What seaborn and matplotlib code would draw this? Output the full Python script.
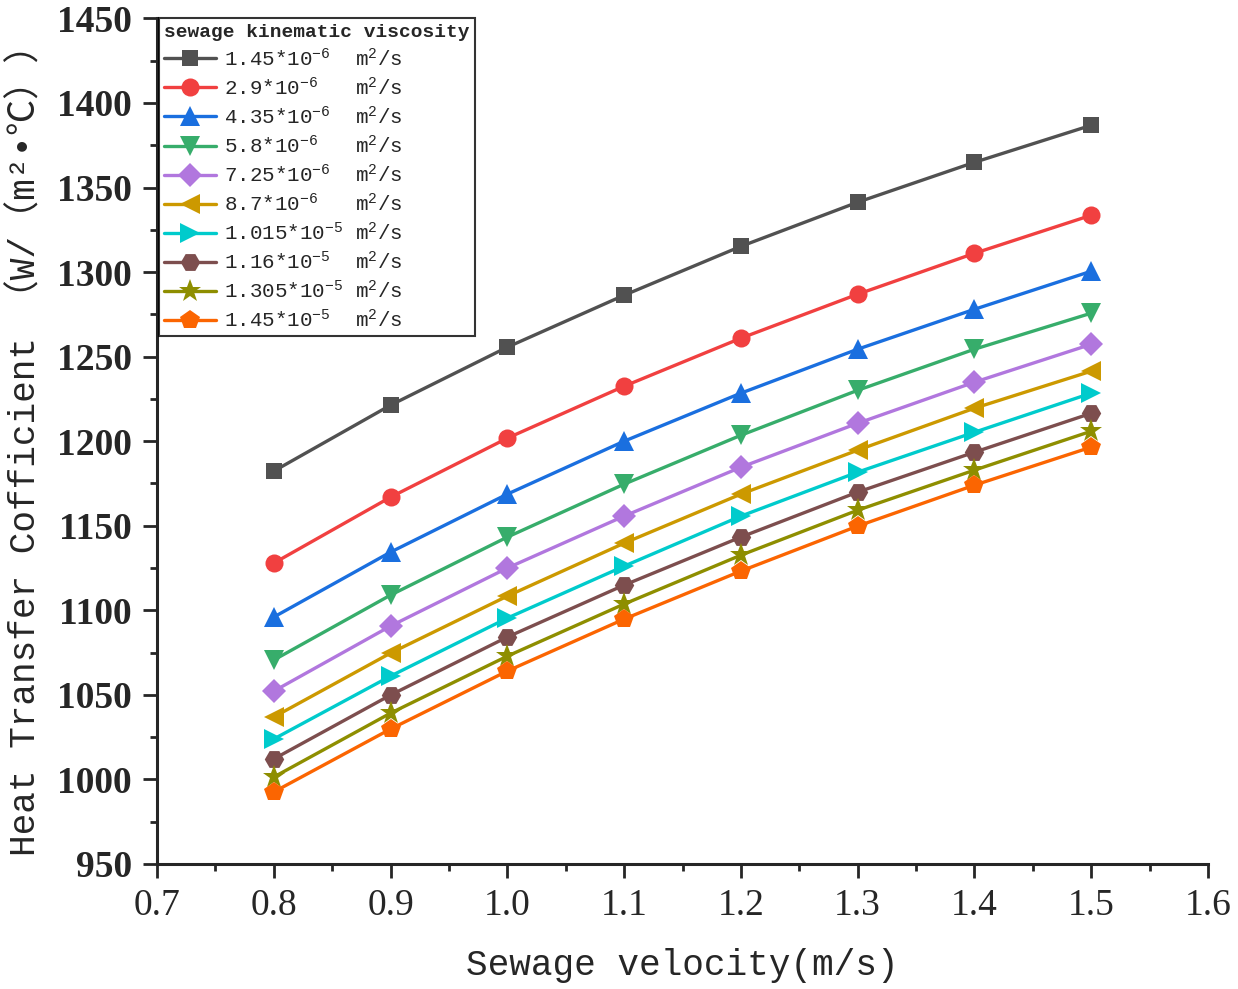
import numpy as np
import pandas as pd
import seaborn as sns
import matplotlib.pyplot as plt
from matplotlib.ticker import MultipleLocator

# data
velocity = [0.8, 0.9, 1.0, 1.1, 1.2, 1.3, 1.4, 1.5]

series_labels = [
    r"1.45*10$^{-6}$  m$^2$/s",
    r"2.9*10$^{-6}$   m$^2$/s",
    r"4.35*10$^{-6}$  m$^2$/s",
    r"5.8*10$^{-6}$   m$^2$/s",
    r"7.25*10$^{-6}$  m$^2$/s",
    r"8.7*10$^{-6}$   m$^2$/s",
    r"1.015*10$^{-5}$ m$^2$/s",
    r"1.16*10$^{-5}$  m$^2$/s",
    r"1.305*10$^{-5}$ m$^2$/s",
    r"1.45*10$^{-5}$  m$^2$/s",
]

h_145e6 = [1182.3, 1221.3, 1255.6, 1286.3, 1315.2, 1341.3, 1364.9, 1386.8]
h_29e6 = [1127.9, 1166.9, 1201.8, 1232.5, 1260.9, 1286.9, 1311.1, 1333.6]
h_435e6 = [1096.0, 1134.4, 1168.7, 1200.0, 1228.4, 1254.4, 1278.0, 1300.5]
h_58e6 = [1070.6, 1109.0, 1143.3, 1174.6, 1203.5, 1230.1, 1254.4, 1275.7]
h_725e6 = [1052.2, 1090.7, 1125.0, 1155.7, 1184.6, 1210.6, 1234.9, 1257.3]
h_87e6 = [1036.9, 1074.7, 1108.4, 1139.7, 1168.7, 1194.7, 1219.5, 1241.4]
h_1015e5 = [1023.9, 1061.1, 1095.4, 1126.1, 1155.7, 1181.7, 1205.3, 1228.4]
h_116e5 = [1012.1, 1049.9, 1084.2, 1114.9, 1143.3, 1169.9, 1193.5, 1216.5]
h_1305e5 = [1001.4, 1039.2, 1072.9, 1103.7, 1132.6, 1159.2, 1182.9, 1205.9]
h_145e5 = [992.6, 1029.8, 1064.1, 1094.8, 1123.2, 1149.8, 1174.0, 1196.5]

all_series = [h_145e6, h_29e6, h_435e6, h_58e6, h_725e6,
              h_87e6, h_1015e5, h_116e5, h_1305e5, h_145e5]

colors = ['#515151', '#F14040', '#1A6FDF', '#37AD6B', '#B177DE',
          '#CC9900', '#00CBCC', '#7D4E4E', '#8E8E00', '#FB6501']
marker_list = ['s', 'o', '^', 'v', 'D', '<', '>', 'H', '*', 'p']
# triangles / stars look smaller at the same size, bump them up
marker_sizes = [12, 13, 15, 15, 12, 15, 15, 14, 17, 15]

# long form frame for seaborn
rows = []
for lab, vals in zip(series_labels, all_series):
    for v, h in zip(velocity, vals):
        rows.append({'velocity': v, 'h': h, 'series': lab})
df = pd.DataFrame(rows)

sns.set_style('ticks')
plt.rcParams['font.family'] = ['Liberation Mono', 'Noto Sans CJK SC']
plt.rcParams['mathtext.fontset'] = 'custom'
plt.rcParams['mathtext.rm'] = 'Liberation Mono'
plt.rcParams['mathtext.it'] = 'Liberation Mono'
plt.rcParams['mathtext.bf'] = 'Liberation Mono:bold'

fig = plt.figure(figsize=(12.38, 9.89), dpi=100)
ax = fig.add_axes([0.1268, 0.1264, 0.849, 0.855])

sns.lineplot(data=df, x='velocity', y='h', hue='series', style='series',
             hue_order=series_labels, style_order=series_labels,
             palette=colors, markers=dict(zip(series_labels, marker_list)),
             dashes=False, linewidth=2.4, markersize=13,
             markeredgewidth=0, legend=False, ax=ax)

handles = ax.get_lines()[:len(series_labels)]
for ln, ms in zip(handles, marker_sizes):
    ln.set_markersize(ms)

ax.set_xlim(0.7, 1.6)
ax.set_ylim(950, 1450)
ax.xaxis.set_major_locator(MultipleLocator(0.1))
ax.xaxis.set_minor_locator(MultipleLocator(0.05))
ax.yaxis.set_major_locator(MultipleLocator(50))
ax.yaxis.set_minor_locator(MultipleLocator(25))
ax.set_xticklabels([f"{t:.1f}" for t in ax.get_xticks()])

sns.despine(ax=ax)
for side in ['left', 'bottom']:
    ax.spines[side].set_linewidth(2.2)
ax.tick_params(which='major', direction='out', length=10, width=2, pad=8)
ax.tick_params(which='minor', direction='out', length=5, width=2)

for lbl in ax.get_yticklabels():
    lbl.set_fontfamily('Liberation Serif')
    lbl.set_fontweight('bold')
    lbl.set_fontsize(27)
for lbl in ax.get_xticklabels():
    lbl.set_fontfamily('Liberation Serif')
    lbl.set_fontsize(27)

ax.set_xlabel('Sewage velocity(m/s)', fontsize=26, labelpad=18)
ax.set_ylabel('Heat Transfer Cofficient （W/（m²•℃））', fontsize=26, labelpad=10)

leg = ax.legend(handles, series_labels, title='sewage kinematic viscosity',
                loc='upper left', bbox_to_anchor=(0.002, 1.0), borderaxespad=0,
                fontsize=15, title_fontproperties={'weight': 'bold', 'size': 14},
                frameon=True, fancybox=False, edgecolor='black',
                labelspacing=0.31, handlelength=2.5, handletextpad=0.35,
                borderpad=0.25, markerscale=1.0)
leg._legend_box.align = 'left'
leg.get_frame().set_linewidth(1.5)

plt.savefig('out.png', dpi=100)
plt.close()
